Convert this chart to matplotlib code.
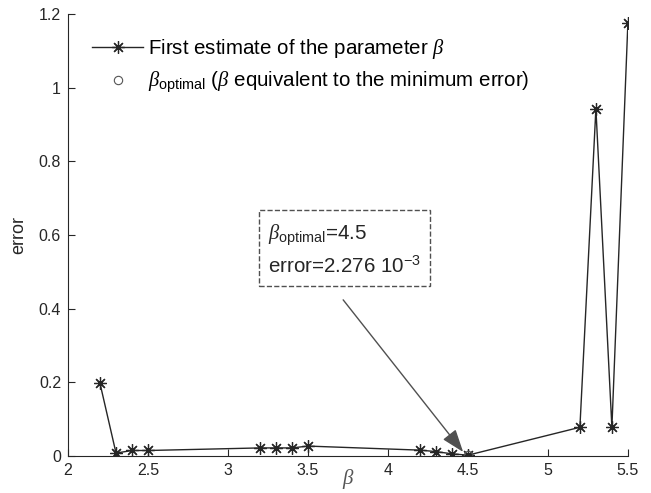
import numpy as np
import matplotlib
matplotlib.use('Agg')
import matplotlib.pyplot as plt

plt.rcParams['font.family'] = ['Liberation Sans', 'DejaVu Sans']
plt.rcParams['mathtext.fontset'] = 'custom'
plt.rcParams['mathtext.rm'] = 'Liberation Sans'
plt.rcParams['mathtext.sf'] = 'Liberation Sans'
plt.rcParams['mathtext.it'] = 'Liberation Serif:italic'
plt.rcParams['mathtext.bf'] = 'Liberation Sans:bold'

# data
beta = [2.2, 2.3, 2.4, 2.5, 3.2, 3.3, 3.4, 3.5, 4.2, 4.3, 4.4, 4.5, 5.2, 5.3, 5.4, 5.5]
err = [0.197, 0.008, 0.015, 0.015, 0.022, 0.022, 0.022, 0.027,
       0.016, 0.012, 0.006, 0.002276, 0.078, 0.943, 0.078, 1.176]
beta_opt = 4.5
err_opt = 0.002276
xticks = [2, 2.5, 3, 3.5, 4, 4.5, 5, 5.5]
xticklabels = ['2', '2.5', '3', '3.5', '4', '4.5', '5', '5.5']
yticks = [0, 0.2, 0.4, 0.6, 0.8, 1, 1.2]
yticklabels = ['0', '0.2', '0.4', '0.6', '0.8', '1', '1.2']

fig = plt.figure(figsize=(6.51, 4.93), dpi=100)
ax = fig.add_axes([0.1045, 0.075, 0.86, 0.8966])

ax.plot(beta, err, '-', marker=(8, 2, 0), color='#262626', lw=1.0, ms=9, mew=0.9,
        label=r'First estimate of the parameter $\beta$')
ax.plot([beta_opt], [err_opt], 'o', mfc='none', mec='#555555', ms=6, mew=0.8,
        label=r'$\beta_{\mathrm{optimal}}$ ($\beta$ equivalent to the minimum error)')

ax.set_xlim(2, 5.5)
ax.set_ylim(0, 1.2)
ax.set_xticks(xticks)
ax.set_xticklabels(xticklabels)
ax.set_yticks(yticks)
ax.set_yticklabels(yticklabels)
ax.tick_params(direction='in', length=5, labelsize=11.5, colors='#262626', pad=5)
ax.spines['top'].set_visible(False)
ax.spines['right'].set_visible(False)
ax.spines['left'].set_color('#262626')
ax.spines['bottom'].set_color('#262626')
ax.set_xlabel(r'$\beta$', fontsize=15, color='#555555', labelpad=-8)
ax.set_ylabel('error', fontsize=13, color='#262626', labelpad=8)

leg = ax.legend(loc='upper left', bbox_to_anchor=(0.043, 0.947), frameon=False,
                fontsize=14.8, handlelength=2.5, handletextpad=0.2,
                labelspacing=0.4, borderpad=0, borderaxespad=0)

ax.annotate('', xy=(4.47, 0.011), xytext=(3.72, 0.424),
            arrowprops=dict(arrowstyle='-|>,head_length=1.4,head_width=0.5',
                            color='#505050', lw=1.0, shrinkA=0, shrinkB=0))
ax.text(3.25, 0.632, r'$\beta_{\mathrm{optimal}}$=4.5' + '\n' + r'error=2.276 10$^{-3}$',
        fontsize=14.8, color='#262626', va='top', ha='left', linespacing=1.4,
        bbox=dict(boxstyle='square,pad=0.45', fc='white', ec='#505050', ls='--', lw=1.0))

fig.savefig('out.png', dpi=100)
